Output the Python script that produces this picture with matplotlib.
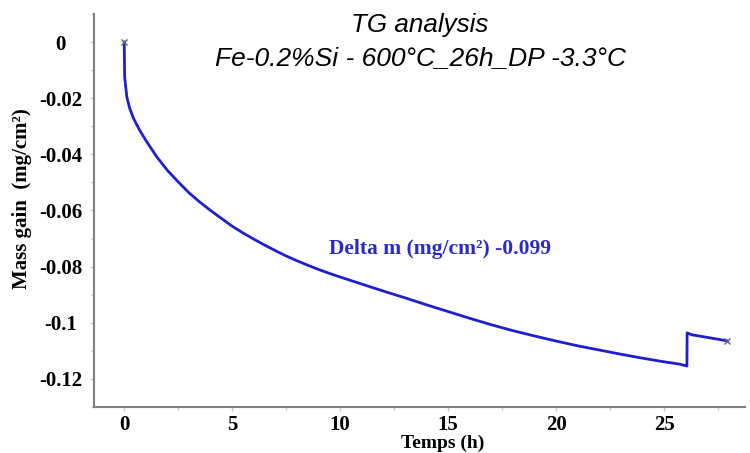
import numpy as np
import matplotlib
matplotlib.use("Agg")
import matplotlib.pyplot as plt
from matplotlib.ticker import MultipleLocator

# Mass gain curve (time in h, mass gain in mg/cm²)
TIME = [0.0, 0.02, 0.12, 0.25, 0.43, 0.7, 1.0, 1.5, 2.0, 2.5, 3.0, 3.5,
        4.0, 4.5, 5.0, 5.5, 6.0, 6.5, 7.0, 7.5, 8.0, 8.5, 9.0, 9.5, 10.0,
        11.0, 12.0, 13.0, 14.0, 15.0, 16.0, 17.0, 18.0, 19.0, 20.0, 21.0,
        22.0, 23.0, 24.0, 25.0, 25.7, 26.06, 26.07, 26.3, 27.0, 27.9]
MASS = [0.0, -0.0125, -0.0195, -0.0235, -0.0272, -0.0312, -0.035, -0.0408,
        -0.0457, -0.0498, -0.0537, -0.0570, -0.0600, -0.0628, -0.0656,
        -0.0680, -0.0702, -0.0723, -0.0743, -0.0762, -0.0779, -0.0795,
        -0.0810, -0.0824, -0.0837, -0.0862, -0.0887, -0.0911, -0.0936,
        -0.0960, -0.0984, -0.1007, -0.1028, -0.1047, -0.1065, -0.1082,
        -0.1097, -0.1112, -0.1126, -0.1139, -0.1147, -0.1154, -0.1036,
        -0.1043, -0.1052, -0.1064]

TITLE_1 = "TG analysis"
TITLE_2 = "Fe-0.2%Si - 600°C_26h_DP -3.3°C"
NOTE = "Delta m (mg/cm²) -0.099"
XLABEL = "Temps (h)"
YLABEL = "Mass gain  (mg/cm²)"

LINE_BLUE = "#1f1fd0"
GREY = "#808080"
SERIF = "Liberation Serif"
W, H = 750, 453

fig = plt.figure(figsize=(7.5, 4.53), dpi=100)
ax = fig.add_axes([94 / W, 1 - 407 / H, 651 / W, 393 / H])

ax.plot(TIME, MASS, color=LINE_BLUE, linewidth=2.0, zorder=2,
        solid_joinstyle="round")
ax.plot([TIME[0], TIME[-1]], [MASS[0], MASS[-1]], linestyle="none",
        marker="x", color="#606070", markersize=5, markeredgewidth=1.0, zorder=3)

ax.set_xlim(-1.4, 28.75)
ax.set_ylim(-0.13, 0.01)
ax.xaxis.set_major_locator(MultipleLocator(5))
ax.xaxis.set_minor_locator(MultipleLocator(2.5))
ax.yaxis.set_major_locator(MultipleLocator(0.02))
ax.yaxis.set_minor_locator(MultipleLocator(0.01))
ax.yaxis.set_major_formatter(plt.FuncFormatter(
    lambda v, p: "0" if abs(v) < 1e-9 else f"{v:g}"))

for s in ["top", "right"]:
    ax.spines[s].set_visible(False)
for s in ["left", "bottom"]:
    ax.spines[s].set_color(GREY)
    ax.spines[s].set_linewidth(1.5)

ax.tick_params(which="both", direction="out", color="#c8c8c8", width=1)
ax.tick_params(which="major", length=3, labelsize=15)
ax.tick_params(which="minor", length=2.5)
ax.tick_params(axis="x", which="major", pad=3)
ax.tick_params(axis="y", which="major", pad=21)
for lab in ax.get_xticklabels() + ax.get_yticklabels():
    lab.set_fontfamily(SERIF)
    lab.set_fontweight("bold")
for lab in ax.get_yticklabels():
    lab.set_horizontalalignment("center")

fig.text(443 / W, 1 - 448 / H, XLABEL, ha="center", va="baseline", fontsize=14,
         fontweight="bold", family=SERIF)
fig.text(22 / W, 1 - 199 / H, YLABEL, ha="center", va="center", rotation=90,
         fontsize=15, fontweight="bold", family=SERIF)

fig.text(420 / W, 1 - 32 / H, TITLE_1, ha="center", va="baseline",
         fontsize=18.7, style="italic", family="Liberation Sans")
fig.text(420 / W, 1 - 65 / H, TITLE_2, ha="center", va="baseline",
         fontsize=19, style="italic", family="Liberation Sans")

ax.text(14.63, -0.0736, NOTE, ha="center", va="center", fontsize=15.5,
        fontweight="bold", family=SERIF, color="#2a2ac8")

fig.savefig("out.png", dpi=100)
